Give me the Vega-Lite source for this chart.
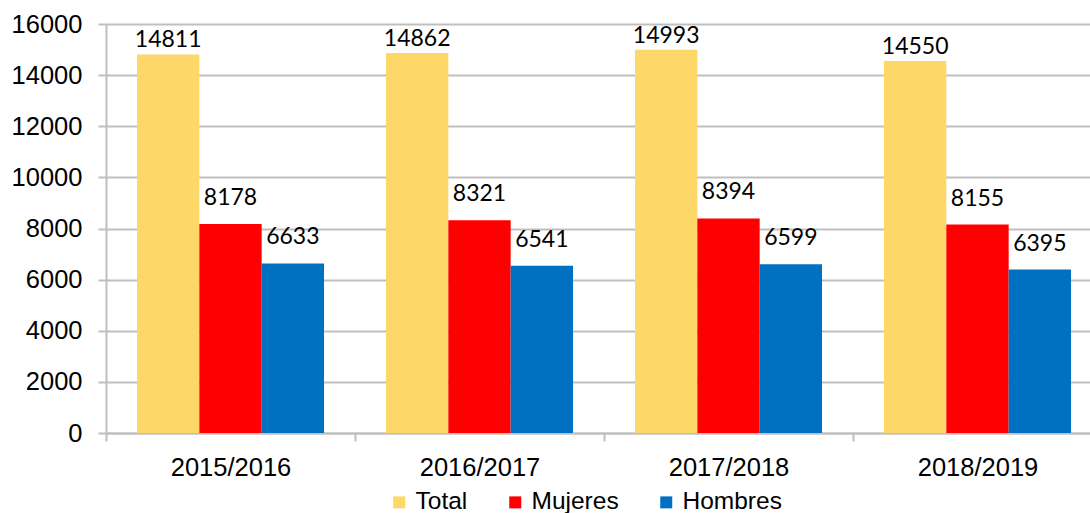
{
  "$schema": "https://vega.github.io/schema/vega-lite/v6.json",
  "autosize": "none",
  "width": 984,
  "height": 409,
  "padding": {"left": 106, "top": 24, "right": 0, "bottom": 80},
  "background": "white",
  "config": {"view": {"stroke": null}, "font": "Liberation Sans"},
  "data": {
    "values": [
      {"year": "2015/2016", "serie": "Total", "value": 14811},
      {"year": "2015/2016", "serie": "Mujeres", "value": 8178},
      {"year": "2015/2016", "serie": "Hombres", "value": 6633},
      {"year": "2016/2017", "serie": "Total", "value": 14862},
      {"year": "2016/2017", "serie": "Mujeres", "value": 8321},
      {"year": "2016/2017", "serie": "Hombres", "value": 6541},
      {"year": "2017/2018", "serie": "Total", "value": 14993},
      {"year": "2017/2018", "serie": "Mujeres", "value": 8394},
      {"year": "2017/2018", "serie": "Hombres", "value": 6599},
      {"year": "2018/2019", "serie": "Total", "value": 14550},
      {"year": "2018/2019", "serie": "Mujeres", "value": 8155},
      {"year": "2018/2019", "serie": "Hombres", "value": 6395}
    ]
  },
  "encoding": {
    "x": {
      "field": "year", "type": "nominal", "sort": null,
      "scale": {"range": [0, 996], "paddingInner": 0.249, "paddingOuter": 0.1245},
      "axis": {
        "title": null, "labelAngle": 0, "labelFontSize": 25.5, "labelColor": "#000000",
        "labelPadding": 14, "domainColor": "#BFBFBF", "domainWidth": 2,
        "tickColor": "#BFBFBF", "tickWidth": 2, "tickSize": 8, "tickOffset": -124.5,
        "labelOffset": 124.5, "grid": false
      }
    },
    "xOffset": {
      "field": "serie", "type": "nominal", "sort": ["Total", "Mujeres", "Hombres"],
      "scale": {"paddingInner": 0, "paddingOuter": 0}
    },
    "y": {
      "field": "value", "type": "quantitative",
      "scale": {"domain": [0, 16000], "nice": false},
      "axis": {
        "title": null, "values": [0, 2000, 4000, 6000, 8000, 10000, 12000, 14000, 16000],
        "format": "d", "labelFontSize": 25.5, "labelColor": "#000000", "labelPadding": 16,
        "domainColor": "#BFBFBF", "domainWidth": 2, "tickColor": "#BFBFBF", "tickWidth": 2, "tickSize": 8,
        "grid": true, "gridColor": "#BFBFBF", "gridWidth": 2
      }
    }
  },
  "layer": [
    {
      "mark": {"type": "bar"},
      "encoding": {
        "color": {
          "field": "serie", "type": "nominal",
          "sort": ["Total", "Mujeres", "Hombres"],
          "scale": {"domain": ["Total", "Mujeres", "Hombres"], "range": ["#FDD868", "#FF0000", "#0070C0"]},
          "legend": {
            "title": null, "orient": "none", "legendX": 281, "legendY": 466,
            "direction": "horizontal", "symbolType": "square", "symbolSize": 144,
            "symbolStrokeWidth": 0, "labelFontSize": 24.5, "labelColor": "#000000",
            "labelOffset": 4, "columnPadding": 35
          }
        }
      }
    },
    {
      "transform": [{"filter": "datum.serie === 'Total'"}],
      "mark": {"type": "text", "dy": -7, "baseline": "alphabetic", "font": "Lato", "fontSize": 23, "color": "#000000"},
      "encoding": {"text": {"field": "value", "type": "quantitative", "format": "d"}}
    },
    {
      "transform": [{"filter": "datum.serie !== 'Total'"}],
      "mark": {"type": "text", "dy": -19, "baseline": "alphabetic", "font": "Lato", "fontSize": 23, "color": "#000000"},
      "encoding": {"text": {"field": "value", "type": "quantitative", "format": "d"}}
    }
  ]
}
